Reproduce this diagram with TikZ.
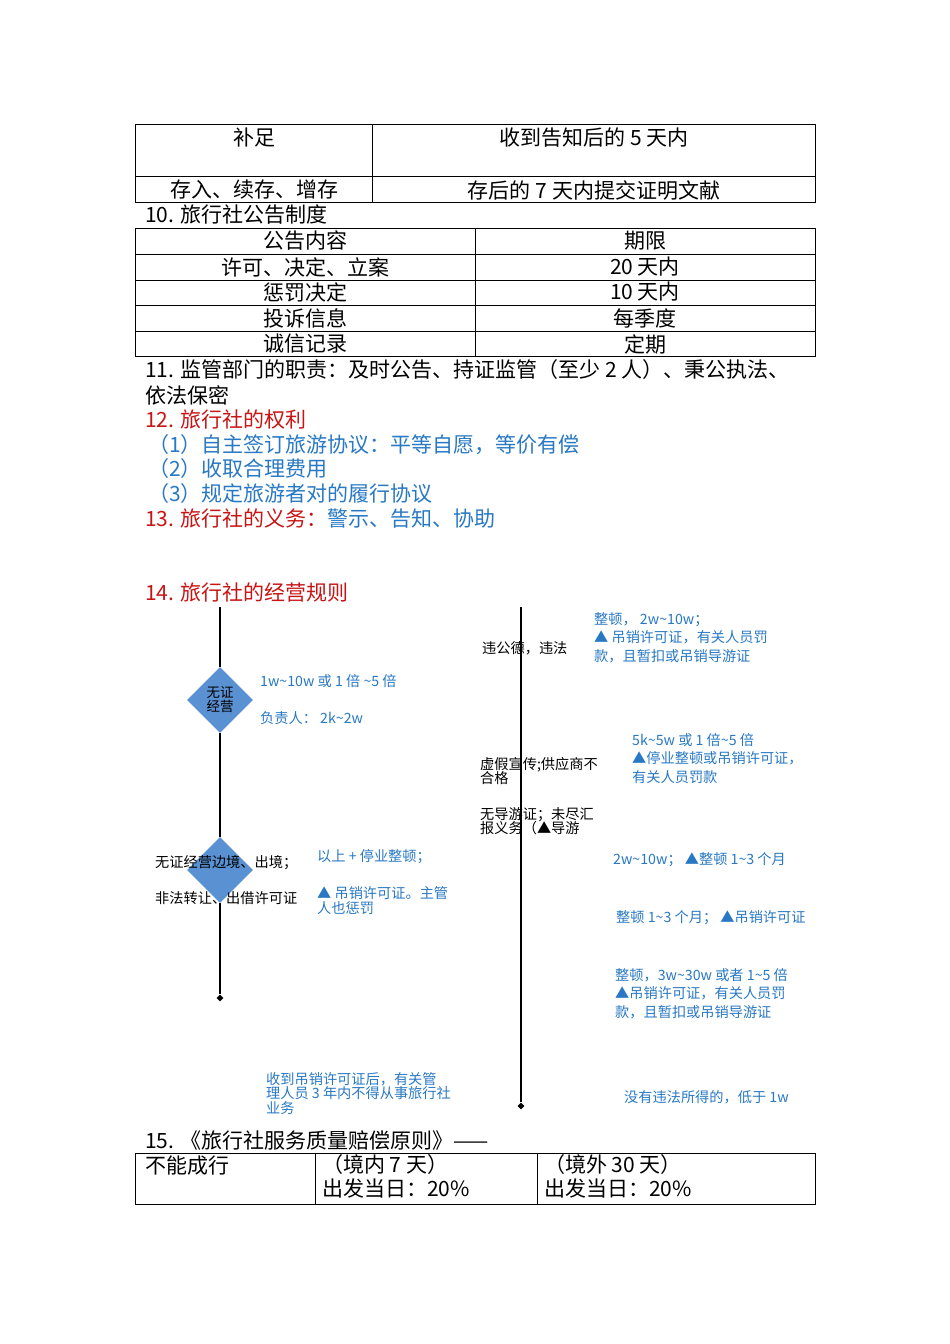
\documentclass[tikz,border=0pt]{standalone}
\usepackage{fontspec}
\setmainfont{Noto Sans CJK SC}
\usetikzlibrary{shapes.geometric}
\definecolor{bl}{RGB}{40,120,195}
\definecolor{rd}{RGB}{200,20,20}
\definecolor{dia}{RGB}{90,145,210}
\newcommand{\tl}{\textasciitilde}
\begin{document}
\begin{tikzpicture}[x=1pt,y=-1pt,
 big/.style={font=\fontsize{21}{23}\selectfont,inner sep=0pt},
 sm/.style={font=\fontsize{14.2}{15.5}\selectfont,inner sep=0pt,align=left},
 tln/.style={line width=0.6pt},
 vline/.style={line width=1.2pt},
 dmd/.style={diamond,fill=dia,minimum size=66pt,inner sep=0pt,font=\fontsize{13.5}{14}\selectfont,align=center}]
\useasboundingbox (0,0) rectangle (950,1344);
% table 1
\draw[tln] (135,124) rectangle (815,202);
\draw[tln] (135,176) -- (815,176);
\draw[tln] (372,124) -- (372,202);
\node[big] (a1) at (254,138) {补足};
\node[big] (a2) at (594,138) {收到告知后的 5 天内};
\node[big] (a3) at (254,190) {存入、续存、增存};
\node[big] (a4) at (594,190) {存后的 7 天内提交证明文献};
\node[big,anchor=west] (t10) at (145,215) {10. 旅行社公告制度};
% table 2
\draw[tln] (135,228) rectangle (815,356);
\foreach \y in {254,280,305,331} \draw[tln] (135,\y) -- (815,\y);
\draw[tln] (475,228) -- (475,356);
\foreach \l/\r/\y [count=\i] in {公告内容/期限/241,{许可、决定、立案}/20 天内/267,惩罚决定/10 天内/292,投诉信息/每季度/318,诚信记录/定期/344}{
 \node[big] (l\i) at (305,\y) {\l};
 \node[big] (r\i) at (645,\y) {\r};}
\node[big,anchor=west] (t11) at (145,370) {11. 监管部门的职责：及时公告、持证监管（至少 2 人）、秉公执法、};
\node[big,anchor=west] (t11b) at (145,395) {依法保密};
\node[big,anchor=west,text=rd] (t12) at (145,420) {12. 旅行社的权利};
\node[big,anchor=west,text=bl] (p1) at (148,445) {（1）自主签订旅游协议：平等自愿，等价有偿};
\node[big,anchor=west,text=bl] (p2) at (148,469) {（2）收取合理费用};
\node[big,anchor=west,text=bl] (p3) at (148,494) {（3）规定旅游者对的履行协议};
\node[big,anchor=west] (t13) at (145,519) {\textcolor{rd}{13. 旅行社的义务：}\textcolor{bl}{警示、告知、协助}};
\node[big,anchor=west,text=rd] (t14) at (145,593) {14. 旅行社的经营规则};
% left timeline
\coordinate (ls) at (220,607);
\node[dmd] (d1) at (220,700) {无证\\经营};
\node[dmd] (d2) at (220,870) {};
\node[diamond,fill=black,minimum size=7pt,inner sep=0pt] (le) at (220,998) {};
\draw[vline] (ls) -- (d1.north);
\draw[vline] (d1.south) -- (d2.north);
\draw[vline] (d2.south) -- (le);
\node[sm,anchor=west,text=bl] (s1) at (260,681) {1w\tl10w 或 1 倍 \tl5 倍};
\node[sm,anchor=west,text=bl] (s2) at (260,718) {负责人：\ 2k\tl2w};
\node[sm,anchor=west] (s3) at (155,863) {无证经营边境、出境；};
\node[sm,anchor=west] (s4) at (155,898) {非法转让、出借许可证};
\node[sm,anchor=west,text=bl] (s5) at (317,857) {以上 + 停业整顿；};
\node[sm,anchor=north west,text=bl] (s6) at (317,886) {▲ 吊销许可证。主管\\人也惩罚};
\node[sm,anchor=north west,text=bl] (s7) at (266,1072) {收到吊销许可证后，有关管\\[-1pt]理人员 3 年内不得从事旅行社\\[-1pt]业务};
% right timeline
\coordinate (rs) at (521,607);
\node[diamond,fill=black,minimum size=7pt,inner sep=0pt] (re) at (521,1106) {};
\draw[vline] (rs) -- (re);
\node[sm,anchor=west] (q1) at (482,648) {违公德，违法};
\node[sm,anchor=north west,text=bl] (b1) at (594,612) {整顿，\ 2w\tl10w；\\[3pt]▲ 吊销许可证，有关人员罚\\[3pt]款，且暂扣或吊销导游证};
\node[sm,anchor=north west] (q2) at (480,757) {虚假宣传;供应商不\\[-1.5pt]合格};
\node[sm,anchor=north west,text=bl] (b2) at (632,733) {5k\tl5w 或 1 倍\tl5 倍\\[3pt]▲停业整顿或吊销许可证，\\[3pt]有关人员罚款};
\node[sm,anchor=north west] (q3) at (480,807) {无导游证；未尽汇\\[-1.5pt]报义务（▲导游};
\node[sm,anchor=west,text=bl] (b3) at (613,860) {2w\tl10w；\ ▲整顿 1\tl3 个月};
\node[sm,anchor=west,text=bl] (b4) at (616,918) {整顿 1\tl3 个月；\ ▲吊销许可证};
\node[sm,anchor=north west,text=bl] (b5) at (615,968) {整顿，3w\tl30w 或者 1\tl5 倍\\[3pt]▲吊销许可证，有关人员罚\\[3pt]款，且暂扣或吊销导游证};
\node[sm,anchor=west,text=bl] (b6) at (624,1097) {没有违法所得的，低于 1w};
% 15
\node[big,anchor=west] (t15) at (145,1141) {15. 《旅行社服务质量赔偿原则》——};
\draw[tln] (135,1153) rectangle (815,1204);
\draw[tln] (315,1153) -- (315,1204);
\draw[tln] (537,1153) -- (537,1204);
\node[big,anchor=west] (c1) at (145,1166) {不能成行};
\node[big,anchor=north west,align=left] (c2) at (322,1154) {（境内 7 天）\\[1pt]出发当日：20\%};
\node[big,anchor=north west,align=left] (c3) at (544,1154) {（境外 30 天）\\[1pt]出发当日：20\%};
\end{tikzpicture}
\end{document}
